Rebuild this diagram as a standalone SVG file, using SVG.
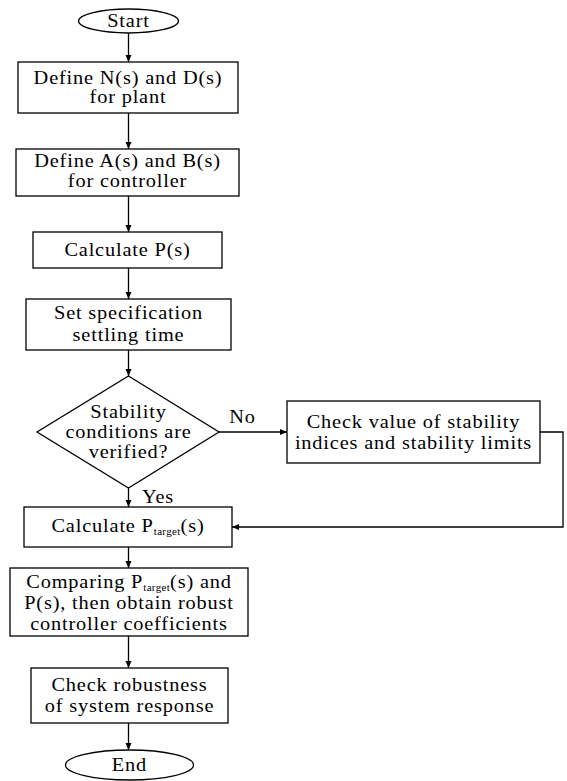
<svg xmlns="http://www.w3.org/2000/svg" width="567" height="781" viewBox="0 0 567 781">
<defs>
<marker id="ah" markerWidth="8" markerHeight="8" refX="7" refY="4" orient="auto" markerUnits="userSpaceOnUse">
<path d="M0,1 L7,4 L0,7 Z" fill="#000"/>
</marker>
<style>
.sh{fill:#fff;stroke:#000;stroke-width:1.3}
.t{font-family:"Liberation Serif","Times New Roman",serif;font-size:18.5px;letter-spacing:0.75px;fill:#000;text-anchor:middle}
.sub{font-size:10px;letter-spacing:0.3px}
.c{fill:none;stroke:#000;stroke-width:1.3;marker-end:url(#ah)}
</style>
</defs>
<rect width="567" height="781" fill="#fff"/>
<g id="connectors">
<path class="c" d="M128.5,33 V62"/>
<path class="c" d="M128.5,113 V149"/>
<path class="c" d="M128.5,196 V232"/>
<path class="c" d="M128.5,268 V299"/>
<path class="c" d="M128.5,350 V376"/>
<path class="c" d="M128.5,488 V507"/>
<path class="c" d="M128.5,547 V568"/>
<path class="c" d="M128.5,636 V668"/>
<path class="c" d="M128.5,723 V750"/>
<path class="c" d="M219,432 H287"/>
<path class="c" d="M540,432 H563 V527 H232"/>
<text class="t" transform="translate(242.5,423) scale(1.1,1)">No</text>
<text class="t" transform="translate(158,503) scale(1.1,1)">Yes</text>
</g>
<g id="start">
<ellipse class="sh" cx="128.5" cy="21" rx="50" ry="12"/>
<text class="t" transform="translate(128.5,27) scale(1.1,1)">Start</text>
</g>
<g id="define-nd">
<rect class="sh" x="18" y="62" width="220" height="51"/>
<text class="t" transform="translate(128,84) scale(1.1,1)">Define N(s) and D(s)</text>
<text class="t" transform="translate(128,103) scale(1.1,1)">for plant</text>
</g>
<g id="define-ab">
<rect class="sh" x="16" y="149" width="223" height="47"/>
<text class="t" transform="translate(127.5,167) scale(1.1,1)">Define A(s) and B(s)</text>
<text class="t" transform="translate(127.5,187) scale(1.1,1)">for controller</text>
</g>
<g id="calc-p">
<rect class="sh" x="33" y="232" width="189" height="36"/>
<text class="t" transform="translate(127.5,256) scale(1.1,1)">Calculate P(s)</text>
</g>
<g id="set-spec">
<rect class="sh" x="26" y="299" width="205" height="51"/>
<text class="t" transform="translate(128.5,319) scale(1.1,1)">Set specification</text>
<text class="t" transform="translate(128.5,341) scale(1.1,1)">settling time</text>
</g>
<g id="stability">
<polygon class="sh" points="128.5,376 219,432 128.5,488 37,432"/>
<text class="t" transform="translate(128.5,418) scale(1.1,1)">Stability</text>
<text class="t" transform="translate(128.5,438) scale(1.1,1)">conditions are</text>
<text class="t" transform="translate(128.5,458) scale(1.1,1)">verified?</text>
</g>
<g id="check-value">
<rect class="sh" x="287" y="401" width="253" height="62"/>
<text class="t" transform="translate(413.5,428) scale(1.1,1)">Check value of stability</text>
<text class="t" transform="translate(413.5,449) scale(1.1,1)">indices and stability limits</text>
</g>
<g id="calc-ptarget">
<rect class="sh" x="24" y="507" width="208" height="40"/>
<text class="t" transform="translate(128,532) scale(1.1,1)">Calculate P<tspan class="sub" dy="3">target</tspan><tspan dy="-3">(s)</tspan></text>
</g>
<g id="compare">
<rect class="sh" x="10" y="568" width="238" height="68"/>
<text class="t" transform="translate(129,588) scale(1.1,1)">Comparing P<tspan class="sub" dy="3">target</tspan><tspan dy="-3">(s) and</tspan></text>
<text class="t" transform="translate(129,609) scale(1.1,1)">P(s), then obtain robust</text>
<text class="t" transform="translate(129,630) scale(1.1,1)">controller coefficients</text>
</g>
<g id="check-robust">
<rect class="sh" x="31" y="668" width="197" height="55"/>
<text class="t" transform="translate(129.5,691) scale(1.1,1)">Check robustness</text>
<text class="t" transform="translate(129.5,712) scale(1.1,1)">of system response</text>
</g>
<g id="end">
<ellipse class="sh" cx="129.5" cy="765" rx="64" ry="15"/>
<text class="t" transform="translate(129.5,771) scale(1.1,1)">End</text>
</g>
</svg>
